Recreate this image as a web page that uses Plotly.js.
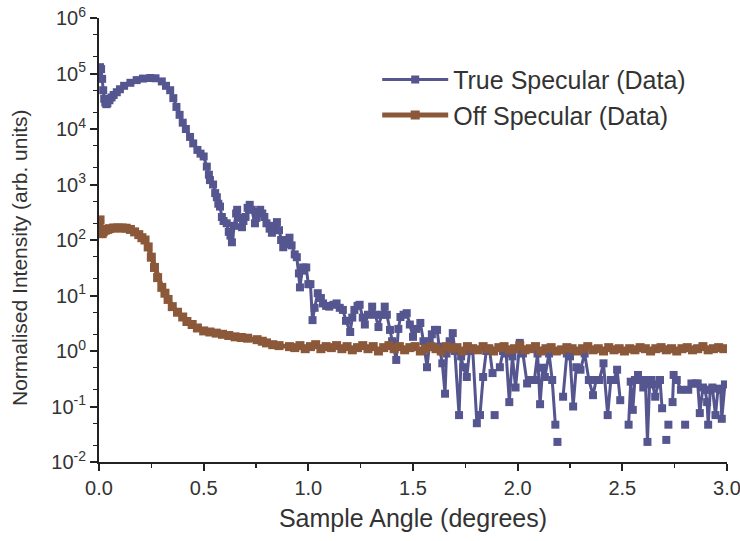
<!DOCTYPE html>
<html>
<head>
<meta charset="utf-8">
<script src="https://cdn.plot.ly/plotly-3.0.1.min.js"></script>
<style>
html,body{margin:0;padding:0;background:#fff;}
#chart{width:740px;height:541px;}
</style>
</head>
<body>
<div id="chart"></div>
<script>
// True specular data (sample angle in degrees, normalised intensity)
var specX = [0.000,0.005,0.010,0.015,0.020,0.025,0.030,0.035,0.040,0.050,0.060,0.070,0.085,0.100,0.120,0.150,0.180,0.210,0.245,0.270,0.300,0.320,0.340,0.355,0.370,0.385,0.400,0.415,0.435,0.450,0.470,0.485,0.500,0.515,0.525,0.530,0.545,0.555,0.563,0.570,0.578,0.587,0.595,0.610,0.620,0.628,0.635,0.645,0.655,0.660,0.670,0.683,0.690,0.700,0.710,0.720,0.730,0.745,0.752,0.760,0.770,0.780,0.790,0.800,0.815,0.826,0.835,0.850,0.860,0.870,0.880,0.890,0.900,0.910,0.920,0.935,0.945,0.955,0.960,0.970,0.975,0.990,1.000,1.010,1.020,1.030,1.045,1.060,1.070,1.085,1.100,1.120,1.135,1.150,1.165,1.180,1.200,1.210,1.220,1.235,1.245,1.260,1.270,1.285,1.305,1.320,1.335,1.350,1.365,1.375,1.390,1.400,1.420,1.430,1.440,1.455,1.470,1.485,1.500,1.515,1.535,1.550,1.567,1.580,1.590,1.605,1.615,1.625,1.640,1.653,1.660,1.675,1.690,1.700,1.720,1.730,1.740,1.757,1.770,1.785,1.805,1.820,1.835,1.850,1.865,1.880,1.885,1.890,1.900,1.915,1.930,1.945,1.960,1.975,1.990,2.010,2.025,2.045,2.060,2.080,2.095,2.107,2.120,2.130,2.150,2.165,2.180,2.185,2.190,2.200,2.217,2.235,2.250,2.265,2.280,2.300,2.320,2.340,2.360,2.375,2.390,2.410,2.430,2.445,2.460,2.475,2.490,2.510,2.530,2.540,2.550,2.560,2.575,2.585,2.600,2.610,2.620,2.630,2.640,2.657,2.670,2.680,2.690,2.700,2.710,2.715,2.720,2.730,2.740,2.745,2.760,2.780,2.790,2.800,2.810,2.815,2.830,2.850,2.860,2.870,2.885,2.895,2.905,2.910,2.920,2.930,2.945,2.957,2.970,2.975,2.990];
var specY = [100000,130000,120000,80000,50000,35000,30000,28000,29000,33000,37000,41000,46000,52000,60000,68000,76000,81000,83000,82000,72000,60000,50000,36000,25000,18000,13000,10000,7200,5500,4200,3600,3200,2100,1500,1200,1000,700,590,450,400,260,220,200,140,120,91,180,300,350,250,170,220,260,380,430,350,200,250,320,350,300,260,200,160,135,180,210,150,100,74,85,100,110,80,55,49,25,14,28,32,32,16,16,3.6,6.0,11,9.0,7.2,6.5,6.3,6.8,7.2,6.0,5.5,3.5,2.2,4.0,5.5,6.5,6.8,4.0,3.0,4.5,6.3,4.5,2.7,4.5,6.3,4.5,2.4,1.5,0.69,2.5,4.1,4.5,4.8,3.0,1.8,2.5,3.2,1.5,0.51,1.5,2.0,2.4,2.4,1.2,0.6,0.17,0.9,1.5,2.1,1.0,0.07,0.8,0.51,0.34,1.0,1.1,0.05,0.07,0.34,1.0,1.1,0.40,null,0.07,null,0.51,1.0,0.9,0.12,0.8,0.22,1.4,0.9,0.26,0.3,0.3,0.9,0.11,0.5,0.34,0.9,0.3,0.047,null,0.023,null,0.15,0.9,0.8,0.10,0.51,0.46,0.9,0.3,0.16,0.3,0.30,0.60,0.07,0.3,0.3,0.46,0.13,null,0.047,0.28,0.087,0.3,0.37,0.3,0.22,0.3,0.023,0.25,0.30,0.15,0.25,0.30,0.093,null,0.025,null,0.047,null,0.12,0.37,0.3,0.20,null,0.047,null,0.20,0.26,0.26,0.26,0.076,0.22,0.2,0.12,0.047,0.2,0.22,0.07,0.21,0.2,0.06,0.25];

// Off specular data
var offX = [0.000,0.005,0.010,0.015,0.020,0.030,0.040,0.050,0.070,0.090,0.110,0.130,0.150,0.170,0.190,0.205,0.220,0.235,0.250,0.265,0.280,0.300,0.315,0.330,0.350,0.375,0.400,0.420,0.445,0.470,0.500,0.530,0.560,0.590,0.620,0.650,0.680,0.710,0.755,0.780,0.800,0.830,0.860,0.910,0.935,0.960,0.985,1.010,1.035,1.060,1.085,1.110,1.135,1.160,1.185,1.210,1.235,1.260,1.285,1.310,1.335,1.360,1.385,1.410,1.435,1.460,1.485,1.510,1.535,1.560,1.585,1.610,1.635,1.660,1.685,1.710,1.735,1.760,1.785,1.810,1.835,1.860,1.885,1.910,1.935,1.960,1.985,2.010,2.035,2.060,2.085,2.110,2.135,2.160,2.185,2.210,2.235,2.260,2.285,2.310,2.335,2.360,2.385,2.410,2.435,2.460,2.485,2.510,2.535,2.560,2.585,2.610,2.635,2.660,2.685,2.710,2.735,2.760,2.785,2.810,2.835,2.860,2.885,2.910,2.935,2.960,2.985];
var offY = [200,230,140,130,140,150,155,160,165,165,165,163,155,140,125,110,100,75,49,32,21,14,11,8.5,6.3,5.0,4.1,3.4,3.0,2.6,2.3,2.2,2.1,2.0,1.9,1.8,1.75,1.7,1.6,1.5,1.4,1.3,1.25,1.2,1.15,1.25,1.1,1.2,1.3,1.1,1.2,1.15,1.25,1.1,1.2,1.05,1.15,1.25,1.1,1.2,1.0,1.15,1.25,1.1,1.2,1.05,1.15,1.2,1.0,1.1,1.2,1.1,1.0,1.2,1.1,1.15,1.0,1.2,1.1,1.05,1.2,1.1,1.0,1.15,1.2,1.05,1.1,1.25,1.05,1.1,1.2,1.0,1.1,1.15,1.0,1.05,1.15,1.1,1.0,1.1,1.2,1.05,1.1,1.0,1.15,1.05,1.1,1.0,1.1,1.05,1.15,1.1,1.0,1.1,1.15,1.05,1.1,1.0,1.1,1.15,1.05,1.1,1.2,1.05,1.1,1.15,1.1];

var yTickVals = [1e-2,1e-1,1e0,1e1,1e2,1e3,1e4,1e5,1e6];
var yTickText = ['10<sup>-2</sup>','10<sup>-1</sup>','10<sup>0</sup>','10<sup>1</sup>','10<sup>2</sup>','10<sup>3</sup>','10<sup>4</sup>','10<sup>5</sup>','10<sup>6</sup>'];
var xTickVals = [0,0.5,1,1.5,2,2.5,3];
var xTickText = ['0.0','0.5','1.0','1.5','2.0','2.5','3.0'];

var blue = '#55558f';
var brown = '#8b583a';
var font = 'Liberation Sans, Arial, sans-serif';

var traces = [
  {x: specX, y: specY, name: 'True Specular (Data)', type: 'scatter', mode: 'lines+markers',
   line: {color: blue, width: 3}, marker: {symbol: 'square', size: 8, color: blue},
   connectgaps: false},
  {x: offX, y: offY, name: 'Off Specular (Data)', type: 'scatter', mode: 'lines+markers',
   line: {color: brown, width: 5}, marker: {symbol: 'square', size: 9, color: brown}}
];

var layout = {
  width: 740, height: 541,
  margin: {l: 99, r: 13, t: 18, b: 79},
  paper_bgcolor: '#fff', plot_bgcolor: '#fff',
  font: {family: font, color: '#333', size: 18},
  showlegend: true,
  legend: {x: 0.443, y: 0.913, xanchor: 'left', yanchor: 'top', bgcolor: 'rgba(0,0,0,0)',
           font: {size: 25, color: '#333', family: font}, itemwidth: 66, tracegroupgap: 0},
  xaxis: {range: [0, 3], tickmode: 'array', tickvals: xTickVals, ticktext: xTickText,
          showline: true, linecolor: '#222', linewidth: 2, mirror: false,
          ticks: 'outside', ticklen: 7, tickwidth: 2, tickcolor: '#222',
          showgrid: false, zeroline: false, ticklabeloverflow: 'allow',
          minor: {dtick: 0.25, tick0: 0, ticks: 'outside', ticklen: 4, tickwidth: 1.5, tickcolor: '#222', showgrid: false},
          tickfont: {size: 20, color: '#333', family: font},
          title: {text: 'Sample Angle (degrees)', font: {size: 25, color: '#333', family: font}, standoff: 11}},
  yaxis: {type: 'log', range: [-2, 6], tickmode: 'array', tickvals: yTickVals, ticktext: yTickText,
          showline: true, linecolor: '#222', linewidth: 2,
          ticks: 'outside', ticklen: 7, tickwidth: 2, tickcolor: '#222',
          showgrid: false, zeroline: false,
          minor: {ticks: 'outside', ticklen: 4, tickwidth: 1, tickcolor: '#222', showgrid: false},
          tickfont: {size: 20, color: '#333', family: font}},
  annotations: [
    {text: 'Normalised Intensity (arb. units)', textangle: -90, xref: 'paper', yref: 'paper',
     x: -0.1258, y: 0.4595, xanchor: 'center', yanchor: 'middle', showarrow: false,
     font: {size: 21, color: '#333', family: font}}
  ]
};

Plotly.newPlot('chart', traces, layout, {displayModeBar: false, staticPlot: true});
</script>
</body>
</html>
